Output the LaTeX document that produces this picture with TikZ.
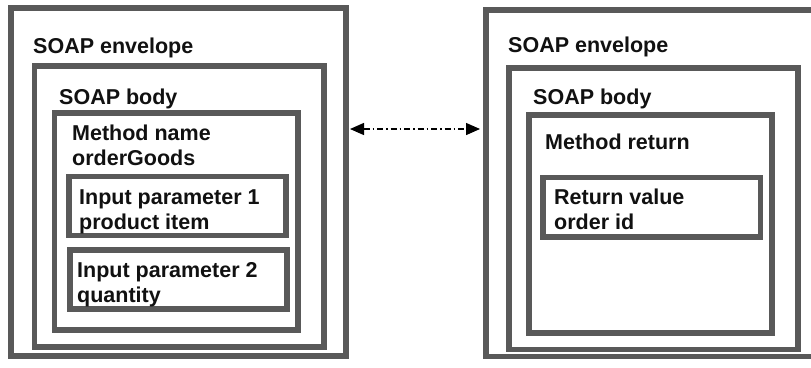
\documentclass[tikz,border=0pt]{standalone}
\usepackage{fontspec}
\setmainfont{Liberation Sans}
\usetikzlibrary{arrows.meta}
\definecolor{frame}{HTML}{595959}
\definecolor{ink}{HTML}{111111}
\begin{document}
\begin{tikzpicture}[x=1pt,y=-1pt,
  box/.style={draw=frame,line width=5.5pt,rectangle,inner sep=0pt,fill=white},
  lbl/.style={anchor=base west,inner sep=0pt,text=ink,font=\fontsize{21.5}{25}\selectfont\bfseries,align=left},
  link/.style={line width=1.4pt,dash pattern=on 6pt off 3pt on 1.5pt off 3pt,
    {Triangle[length=14pt,width=12pt]}-{Triangle[length=14pt,width=12pt]}}]
\clip (0,0) rectangle (811,367);
\fill[white] (0,0) rectangle (811,367);
% left side
\node[box,minimum width=335pt,minimum height=348pt] (envL) at (178.5,182) {};
\node[box,minimum width=289.5pt,minimum height=281pt] (bodyL) at (179.25,206.5) {};
\node[box,minimum width=243.5pt,minimum height=217pt] (methL) at (176.25,221.5) {};
\node[box,minimum width=217pt,minimum height=59pt] (in1) at (177.5,206) {};
\node[box,minimum width=217pt,minimum height=59pt] (in2) at (178.5,279.5) {};
\node[lbl] (tEnvL) at (33,53) {SOAP envelope};
\node[lbl] (tBodyL) at (59,104) {SOAP body};
\node[lbl] (tMethL) at (72,165.5) {Method name\\orderGoods};
\node[lbl] (tIn1) at (79,229.5) {Input parameter 1\\product item};
\node[lbl] (tIn2) at (77,302.5) {Input parameter 2\\quantity};
% right side
\node[box,minimum width=344pt,minimum height=346.5pt] (envR) at (658,183.25) {};
\node[box,minimum width=289pt,minimum height=281.5pt] (bodyR) at (653.5,208.75) {};
\node[box,minimum width=243pt,minimum height=218pt] (methR) at (650.5,224) {};
\node[box,minimum width=217.5pt,minimum height=59.5pt] (retv) at (651.75,207.25) {};
\node[lbl] (tEnvR) at (508,52.5) {SOAP envelope};
\node[lbl] (tBodyR) at (533,104) {SOAP body};
\node[lbl] (tMethR) at (545,149) {Method return};
\node[lbl] (tRet) at (554,229.5) {Return value\\order id};
% connector
\coordinate (aL) at (350,129);
\coordinate (aR) at (480,129);
\draw[link] (aL) -- (aR);
\end{tikzpicture}
\end{document}
